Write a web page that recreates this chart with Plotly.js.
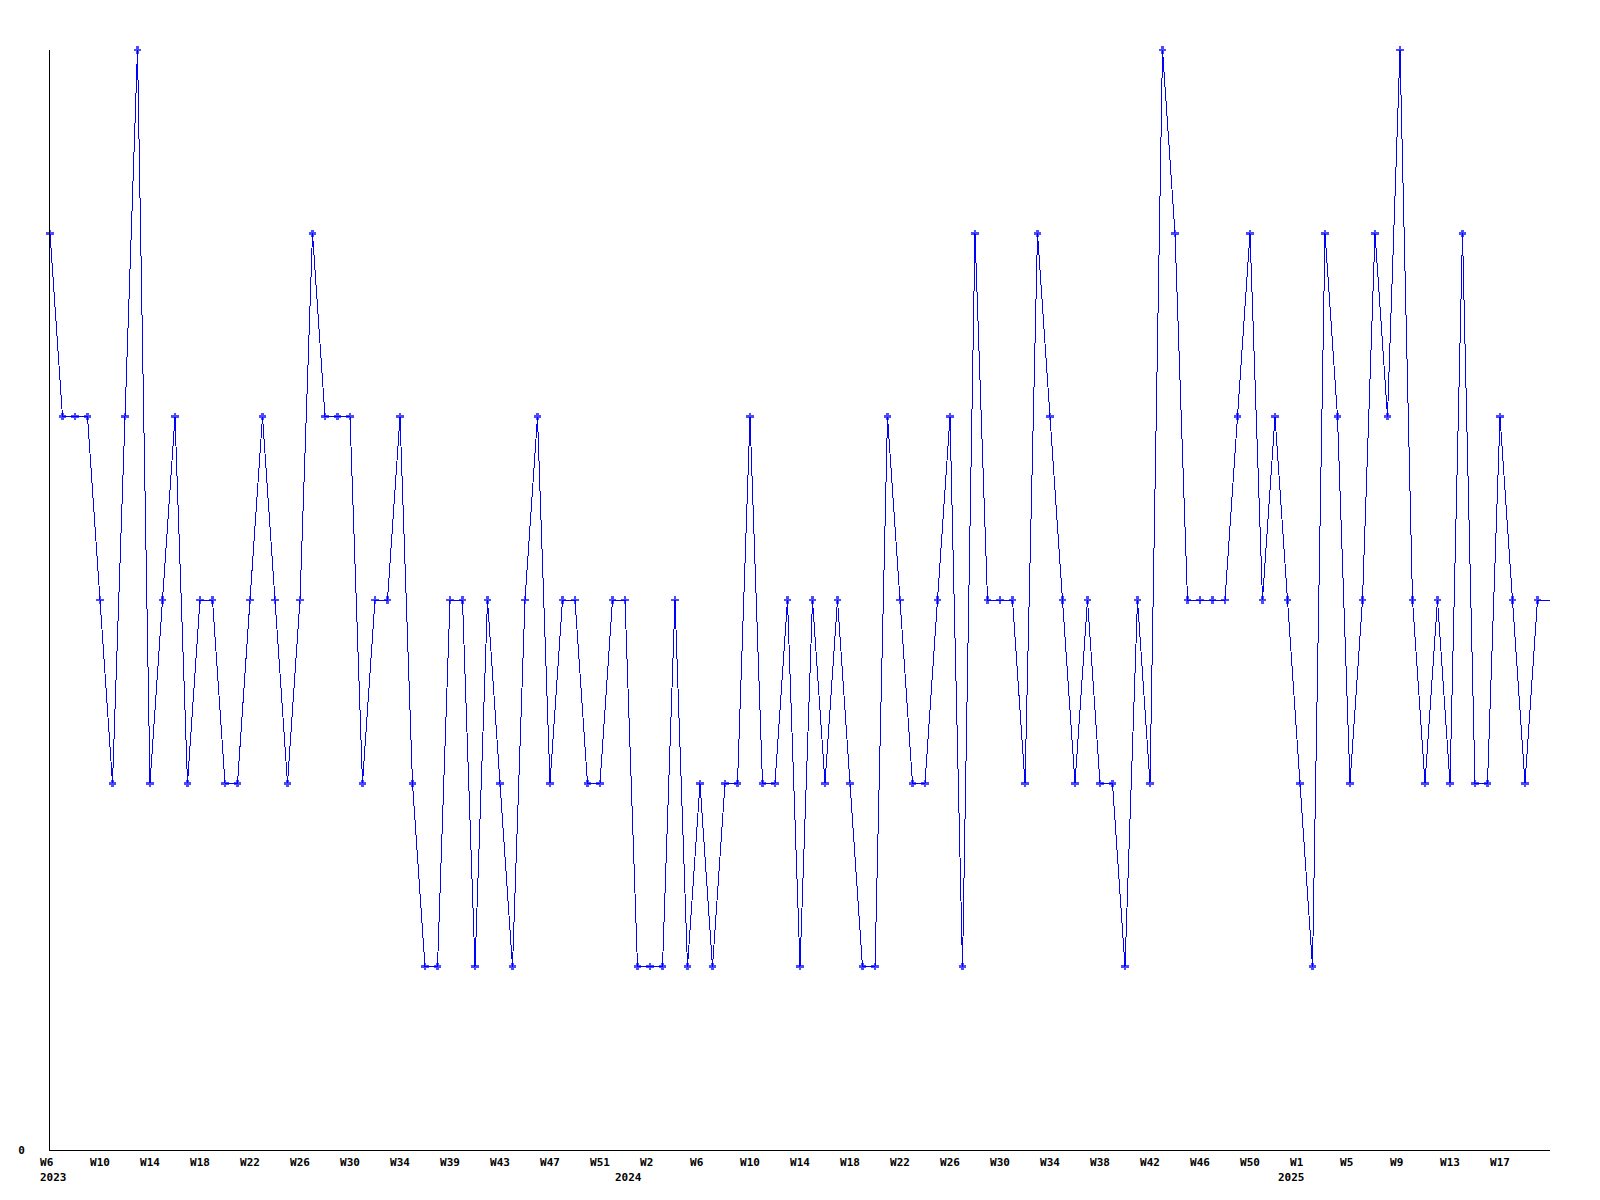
<!DOCTYPE html>
<html>
<head>
<meta charset="utf-8">
<script src="https://cdn.plot.ly/plotly-3.0.1.min.js"></script>
<style>
  html, body { margin: 0; padding: 0; background: #fff; }
  #chart { width: 1600px; height: 1200px; }
  .scatterlayer path.js-line { shape-rendering: crispEdges; }
  .scatterlayer path.point { shape-rendering: crispEdges; }
</style>
</head>
<body>
<div id="chart"></div>
<script>
// Weekly values (one per week, starting W6 2023); last value is the current, unfinished week
const weekValues = [
  5,4,4,4,3,2,4,6,2,3,
  4,2,3,3,2,2,3,4,3,2,
  3,5,4,4,4,2,3,3,4,2,
  1,1,3,3,1,3,2,1,3,4,
  2,3,3,2,2,3,3,1,1,1,
  3,1,2,1,2,2,4,2,2,3,
  1,3,2,3,2,1,1,4,3,2,
  2,3,4,1,5,3,3,3,2,5,
  4,3,2,3,2,2,1,3,2,6,
  5,3,3,3,3,4,5,3,4,3,
  2,1,5,4,2,3,5,4,6,3,
  2,3,2,5,2,2,4,3,2,3,
  3
];

// Week tick labels, one every 4th week
const weekTickLabels = [
  "W6","W10","W14","W18","W22","W26","W30","W34","W39","W43","W47","W51",
  "W2","W6","W10","W14","W18","W22","W26","W30","W34","W38","W42","W46","W50",
  "W1","W5","W9","W13","W17"
];
const tickEvery = 4;

// Year labels and the week index where each year starts
const yearLabels = ["2023", "2024", "2025"];
const yearStartIndex = [0, 46, 99];

const xIdx = weekValues.map((_, i) => i);
const markerSizes = weekValues.map((_, i) => i === weekValues.length - 1 ? 0 : 6);

const pad3 = s => s + "\u00a0".repeat(Math.max(0, 3 - s.length));

const trace = {
  type: "scatter",
  mode: "lines+markers",
  x: xIdx,
  y: weekValues,
  line: { color: "#0000ff", width: 1 },
  marker: { color: "#0000ff", symbol: "cross", size: markerSizes, line: { width: 0 } },
  cliponaxis: false,
  hoverinfo: "skip"
};

const axisFont = { family: "DejaVu Sans Mono", size: 11, color: "#000", weight: "bold" };

const layout = {
  width: 1600,
  height: 1200,
  margin: { l: 50, r: 50, t: 50, b: 50, pad: 0 },
  paper_bgcolor: "#ffffff",
  plot_bgcolor: "#ffffff",
  showlegend: false,
  xaxis: {
    range: [0, weekValues.length - 1],
    showgrid: false,
    zeroline: false,
    showline: true,
    linecolor: "#000",
    linewidth: 1,
    ticks: "",
    tickmode: "array",
    tickvals: weekTickLabels.map((_, i) => i * tickEvery),
    ticktext: weekTickLabels.map(pad3),
    tickfont: axisFont,
    ticklabelstandoff: 2,
    fixedrange: true
  },
  yaxis: {
    range: [0, 6],
    showgrid: false,
    zeroline: false,
    showline: true,
    linecolor: "#000",
    linewidth: 1,
    ticks: "",
    tickmode: "array",
    tickvals: [0],
    ticktext: ["0"],
    tickfont: axisFont,
    ticklabelstandoff: 22,
    fixedrange: true
  },
  annotations: yearLabels.map((t, i) => ({
    text: t,
    x: yearStartIndex[i],
    xref: "x",
    y: 0,
    yref: "paper",
    xanchor: "center",
    yanchor: "top",
    xshift: 3.5,
    yshift: -19,
    showarrow: false,
    font: axisFont
  }))
};

Plotly.newPlot("chart", [trace], layout, { displayModeBar: false, staticPlot: true });
</script>
</body>
</html>
